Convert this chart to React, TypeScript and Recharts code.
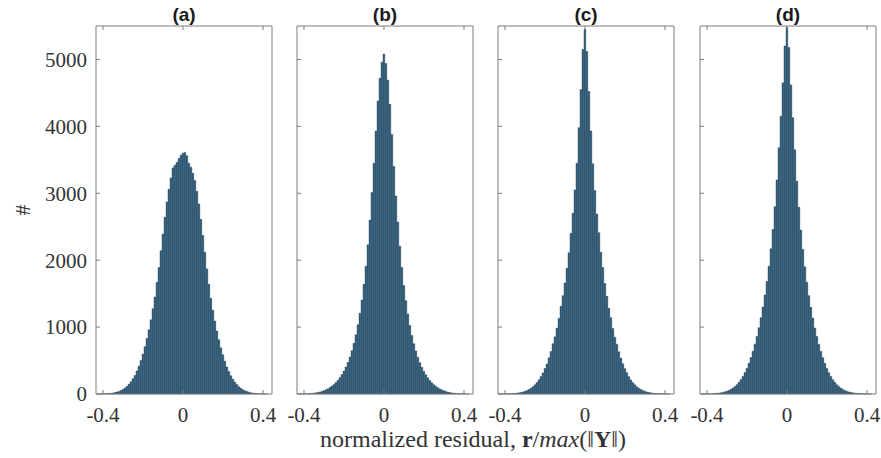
import React from 'react';
import { BarChart, Bar, XAxis, YAxis } from 'recharts';

// histogram bin centres (normalized residual)
const bins = [
  -0.43, -0.42, -0.41, -0.40, -0.39, -0.38, -0.37, -0.36, -0.35, -0.34,
  -0.33, -0.32, -0.31, -0.30, -0.29, -0.28, -0.27, -0.26, -0.25, -0.24,
  -0.23, -0.22, -0.21, -0.20, -0.19, -0.18, -0.17, -0.16, -0.15, -0.14,
  -0.13, -0.12, -0.11, -0.10, -0.09, -0.08, -0.07, -0.06, -0.05, -0.04,
  -0.03, -0.02, -0.01, 0, 0.01, 0.02, 0.03, 0.04, 0.05, 0.06,
  0.07, 0.08, 0.09, 0.10, 0.11, 0.12, 0.13, 0.14, 0.15, 0.16,
  0.17, 0.18, 0.19, 0.20, 0.21, 0.22, 0.23, 0.24, 0.25, 0.26,
  0.27, 0.28, 0.29, 0.30, 0.31, 0.32, 0.33, 0.34, 0.35, 0.36,
  0.37, 0.38, 0.39, 0.40, 0.41, 0.42, 0.43, 0.44,
];

const countsA = [
  0, 1, 1, 2, 3, 5, 7, 10, 15, 21,
  29, 39, 52, 68, 88, 114, 146, 183, 228, 278,
  344, 415, 500, 596, 708, 830, 962, 1108, 1275, 1450,
  1668, 1890, 2140, 2390, 2640, 2870, 3060, 3230, 3380, 3420,
  3460, 3520, 3570, 3600, 3610, 3560, 3450, 3390, 3300, 3190,
  3030, 2840, 2610, 2370, 2120, 1870, 1640, 1430, 1250, 1090,
  940, 810, 690, 585, 490, 405, 336, 272, 222, 178,
  141, 110, 85, 65, 49, 37, 27, 19, 14, 10,
  7, 4, 3, 2, 1, 1, 0, 0,
];

const countsB = [
  0, 1, 1, 2, 3, 5, 7, 9, 13, 17,
  23, 30, 39, 50, 63, 78, 96, 118, 142, 172,
  206, 246, 291, 342, 402, 472, 553, 648, 758, 885,
  1035, 1205, 1405, 1640, 1910, 2230, 2600, 3010, 3450, 3930,
  4380, 4720, 4960, 5080, 4940, 4690, 4330, 3880, 3400, 2960,
  2570, 2210, 1890, 1620, 1395, 1195, 1025, 875, 752, 642,
  548, 468, 398, 338, 286, 241, 202, 168, 140, 115,
  94, 76, 61, 48, 38, 29, 22, 16, 12, 9,
  6, 4, 3, 2, 1, 1, 0, 0,
];

const countsC = [
  0, 1, 1, 2, 2, 3, 5, 7, 9, 13,
  17, 23, 31, 41, 53, 68, 87, 110, 138, 172,
  212, 260, 315, 380, 448, 540, 635, 752, 855, 985,
  1130, 1310, 1470, 1660, 1880, 2110, 2400, 2700, 3050, 3450,
  3980, 4550, 5150, 5450, 5120, 4520, 3930, 3440, 3040, 2690,
  2410, 2120, 1890, 1650, 1460, 1280, 1140, 980, 850, 745,
  630, 538, 452, 378, 318, 258, 210, 170, 139, 108,
  86, 67, 52, 40, 30, 23, 17, 12, 9, 7,
  5, 3, 2, 2, 1, 1, 0, 0,
];

const countsD = [
  0, 1, 1, 2, 2, 3, 5, 7, 10, 13,
  18, 24, 32, 42, 54, 70, 89, 112, 140, 175,
  215, 263, 320, 385, 460, 545, 640, 745, 860, 990,
  1140, 1300, 1480, 1680, 1910, 2170, 2460, 2800, 3200, 3680,
  4150, 4650, 5200, 5480, 5180, 4620, 4130, 3650, 3180, 2790,
  2450, 2160, 1900, 1670, 1470, 1295, 1135, 985, 858, 742,
  636, 542, 458, 382, 318, 262, 213, 174, 139, 111,
  88, 69, 53, 41, 31, 24, 18, 13, 10, 7,
  5, 3, 2, 2, 1, 1, 0, 0,
];

const xTicks = [-0.4, 0, 0.4];
const yTicks = [0, 1000, 2000, 3000, 4000, 5000];
const panelTitles = ['(a)', '(b)', '(c)', '(d)'];
const yLabel = '#';

const AXIS = '#7d7d7d';
const TXT = '#333333';
const BAR_FILL = '#30607f';
const BAR_EDGE = '#1f3d52';
const SERIF = '"Liberation Serif", "Times New Roman", serif';
const SANS = '"Liberation Sans", Arial, sans-serif';

const PLOT_W = 176;
const H = 458;

function fmtX(v: number): string {
  if (v === 0) return '0';
  return (v < 0 ? '-' : '') + Math.abs(v).toString();
}

const BottomTick = (p: any) => (
  <g>
    <line x1={p.x} x2={p.x} y1={p.y} y2={p.y - 4} stroke={AXIS} strokeWidth={1} />
    <text x={p.x} y={p.y + 28} textAnchor="middle" fontFamily={SERIF} fontSize={21} fill={TXT}>
      {fmtX(p.payload.value)}
    </text>
  </g>
);

const TopTick = (p: any) => (
  <line x1={p.x} x2={p.x} y1={p.y} y2={p.y + 4} stroke={AXIS} strokeWidth={1} />
);

const makeLeftTick = (showLabel: boolean) => (p: any) => (
  <g>
    <line x1={p.x} x2={p.x + 4} y1={p.y} y2={p.y} stroke={AXIS} strokeWidth={1} />
    {showLabel ? (
      <text x={p.x - 9} y={p.y} dy="0.35em" textAnchor="end" fontFamily={SERIF} fontSize={21} fill={TXT}>
        {String(p.payload.value)}
      </text>
    ) : null}
  </g>
);

const RightTick = (p: any) => (
  <line x1={p.x} x2={p.x - 4} y1={p.y} y2={p.y} stroke={AXIS} strokeWidth={1} />
);

type PanelProps = {
  counts: number[];
  left: number;
  width: number;
  ml: number;
  mr: number;
  showY: boolean;
};

function Panel({ counts, left, width, ml, mr, showY }: PanelProps) {
  const data = bins.map((x, i) => ({ x, v: counts[i] }));
  const yw = showY ? 60 : 1;
  return (
    <div style={{ position: 'absolute', left, top: 0 }}>
      <BarChart
        width={width}
        height={H}
        data={data}
        margin={{ top: 25, right: mr, bottom: 34, left: ml }}
        barCategoryGap={0}
        barGap={0}
      >
        <XAxis
          xAxisId="b"
          dataKey="x"
          allowDuplicatedCategory={false}
          ticks={xTicks}
          interval={0}
          height={30}
          tickLine={false}
          tickSize={0}
          tickMargin={0}
          axisLine={{ stroke: AXIS, strokeWidth: 1 }}
          tick={BottomTick}
        />
        <XAxis
          xAxisId="t"
          dataKey="x"
          orientation="top"
          allowDuplicatedCategory={false}
          ticks={xTicks}
          interval={0}
          height={1}
          tickLine={false}
          tickSize={0}
          tickMargin={0}
          axisLine={{ stroke: AXIS, strokeWidth: 1 }}
          tick={TopTick}
        />
        <YAxis
          yAxisId="l"
          type="number"
          domain={[0, 5500]}
          ticks={yTicks}
          interval={0}
          width={yw}
          tickLine={false}
          tickSize={0}
          tickMargin={0}
          axisLine={{ stroke: AXIS, strokeWidth: 1 }}
          tick={makeLeftTick(showY)}
        />
        <YAxis
          yAxisId="r"
          orientation="right"
          type="number"
          domain={[0, 5500]}
          ticks={yTicks}
          interval={0}
          width={1}
          tickLine={false}
          tickSize={0}
          tickMargin={0}
          axisLine={{ stroke: AXIS, strokeWidth: 1 }}
          tick={RightTick}
        />
        <Bar
          dataKey="v"
          xAxisId="b"
          yAxisId="l"
          barSize={2}
          fill={BAR_FILL}
          stroke={BAR_EDGE}
          strokeWidth={0.4}
          isAnimationActive={false}
        />
      </BarChart>
    </div>
  );
}

const layout = [
  { left: 0, width: 290, ml: 36, mr: 17, showY: true, plotLeft: 96 },
  { left: 278, width: 210, ml: 18, mr: 14, showY: false, plotLeft: 297 },
  { left: 478, width: 212, ml: 19, mr: 15, showY: false, plotLeft: 498 },
  { left: 680, width: 201, ml: 19, mr: 4, showY: false, plotLeft: 700 },
];

const allCounts = [countsA, countsB, countsC, countsD];

export default function App() {
  return (
    <div style={{ position: 'absolute', left: 0, top: 0, width: 881, height: H, background: '#fff' }}>
      {layout.map((l, i) => (
        <Panel key={i} counts={allCounts[i]} left={l.left} width={l.width} ml={l.ml} mr={l.mr} showY={l.showY} />
      ))}
      <svg width={881} height={H} style={{ position: 'absolute', left: 0, top: 0, pointerEvents: 'none' }}>
        {layout.map((l, i) => (
          <text
            key={i}
            x={l.plotLeft + PLOT_W / 2}
            y={21}
            textAnchor="middle"
            fontFamily={SANS}
            fontWeight="bold"
            fontSize={19}
            fill="#1a1a1a"
          >
            {panelTitles[i]}
          </text>
        ))}
        <text
          x={22}
          y={210}
          transform="rotate(-90 22 210)"
          textAnchor="middle"
          dy="0.35em"
          fontFamily={SERIF}
          fontSize={22}
          fill={TXT}
        >
          {yLabel}
        </text>
        <text x={473} y={447} textAnchor="middle" fontFamily={SERIF} fontSize={24} fill={TXT}>
          <tspan>normalized residual, </tspan>
          <tspan fontWeight="bold">r</tspan>
          <tspan>/</tspan>
          <tspan fontStyle="italic">max</tspan>
          <tspan>(‖</tspan>
          <tspan fontWeight="bold">Y</tspan>
          <tspan>‖)</tspan>
        </text>
      </svg>
    </div>
  );
}
